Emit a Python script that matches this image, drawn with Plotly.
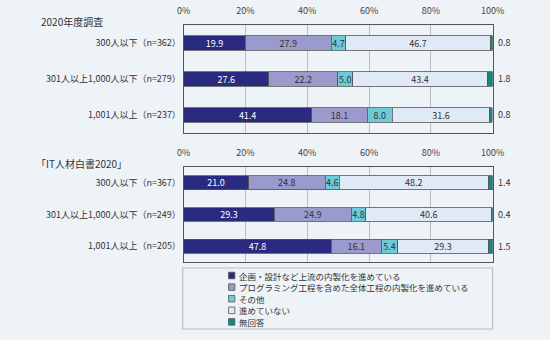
import plotly.graph_objects as go

# ---- data ----
series_names = [
    "企画・設計など上流の内製化を進めている",
    "プログラミング工程を含めた全体工程の内製化を進めている",
    "その他",
    "進めていない",
    "無回答",
]
series_colors = ["#2a2a80", "#9a9acd", "#6ccad9", "#dfeaf6", "#0f8a80"]
text_colors = ["#ffffff", "#333333", "#333333", "#333333", "#333333"]

group_titles = ["2020年度調査", "「IT人材白書2020」"]

cats_2020 = ["300人以下（n=362）", "301人以上1,000人以下（n=279）", "1,001人以上（n=237）"]
upstream_2020 = [19.9, 27.6, 41.4]
fullproc_2020 = [27.9, 22.2, 18.1]
other_2020 = [4.7, 5.0, 8.0]
none_2020 = [46.7, 43.4, 31.6]
noans_2020 = [0.8, 1.8, 0.8]

cats_wp = ["300人以下（n=367）", "301人以上1,000人以下（n=249）", "1,001人以上（n=205）"]
upstream_wp = [21.0, 29.3, 47.8]
fullproc_wp = [24.8, 24.9, 16.1]
other_wp = [4.6, 4.8, 5.4]
none_wp = [48.2, 40.6, 29.3]
noans_wp = [1.4, 0.4, 1.5]

x_ticks = [0, 20, 40, 60, 80, 100]
x_ticktext = ["0%", "20%", "40%", "60%", "80%", "100%"]

groups = [
    (cats_2020, [upstream_2020, fullproc_2020, other_2020, none_2020, noans_2020]),
    (cats_wp, [upstream_wp, fullproc_wp, other_wp, none_wp, noans_wp]),
]

# ---- layout constants ----
W, H = 550, 340
BG = "#eef3f8"
FONT = "Noto Sans CJK JP, Noto Sans, sans-serif"
x_dom = [183 / W, 503 / W]
y_doms = [[1 - 133 / H, 1 - 25 / H], [1 - 262 / H, 1 - 167 / H]]
bar_widths = [0.39, 0.44]

fig = go.Figure()
annotations = []

for g, (cats, vals) in enumerate(groups):
    xa = "x" if g == 0 else "x2"
    ya = "y" if g == 0 else "y2"
    for s, v in enumerate(vals):
        is_last = s == len(vals) - 1
        fig.add_trace(go.Bar(
            orientation="h", x=v, y=cats, xaxis=xa, yaxis=ya,
            name=series_names[s], width=bar_widths[g],
            marker=dict(color=series_colors[s], line=dict(color="#555555", width=0.8)),
            text=None if is_last else [f"{x:.1f}" for x in v],
            textposition="none" if is_last else "inside",
            insidetextanchor="middle", textangle=0,
            textfont=dict(color=text_colors[s], size=9, family=FONT),
            showlegend=False, hoverinfo="x+y+name",
        ))
    # values of the last series shown to the right of the plot
    for c, v in zip(cats, vals[-1]):
        annotations.append(dict(
            x=100, y=c, xref=xa, yref=ya, text=f"{v:.1f}", showarrow=False,
            xanchor="left", xshift=3, font=dict(size=9, color="#333333", family=FONT),
        ))

# group titles
annotations.append(dict(x=33 / W, y=1 - 22 / H, xref="paper", yref="paper", text=group_titles[0],
                        showarrow=False, xanchor="left", yanchor="middle",
                        font=dict(size=10, color="#333333", family=FONT)))
annotations.append(dict(x=28 / W, y=1 - 163 / H, xref="paper", yref="paper", text=group_titles[1],
                        showarrow=False, xanchor="left", yanchor="middle",
                        font=dict(size=10, color="#333333", family=FONT)))

# manual legend
shapes = [dict(type="rect", xref="paper", yref="paper",
               x0=182 / W, x1=503 / W, y0=1 - 329 / H, y1=1 - 268 / H,
               line=dict(color="#bbbbbb", width=1.2), fillcolor=BG, layer="below")]
row0, step = 275.5, 11.6
for i, (nm, col) in enumerate(zip(series_names, series_colors)):
    yc = row0 + i * step
    shapes.append(dict(type="rect", xref="paper", yref="paper",
                       x0=229.5 / W, x1=236 / W, y0=1 - (yc + 3.3) / H, y1=1 - (yc - 3.3) / H,
                       line=dict(color="#555555", width=0.8), fillcolor=col))
    annotations.append(dict(x=238 / W, y=1 - yc / H, xref="paper", yref="paper", text=nm,
                            showarrow=False, xanchor="left", yanchor="middle",
                            font=dict(size=8.5, color="#333333", family=FONT)))

xaxis_common = dict(
    range=[0, 100], tickvals=x_ticks, ticktext=x_ticktext, side="top",
    showgrid=True, gridcolor="#bdbdbd", gridwidth=1,
    showline=True, linecolor="#555555", linewidth=1, mirror=True,
    ticks="outside", ticklen=6, tickcolor=BG, zeroline=False,
    tickfont=dict(size=9, color="#444444", family=FONT), fixedrange=True,
)
yaxis_common = dict(
    range=[2.5, -0.5], type="category", showline=True, linecolor="#555555", linewidth=1,
    mirror=True, ticks="", showgrid=False,
    tickfont=dict(size=9, color="#333333", family=FONT), fixedrange=True,
)

fig.update_layout(
    width=W, height=H, margin=dict(l=0, r=0, t=0, b=0),
    paper_bgcolor=BG, plot_bgcolor=BG, barmode="stack",
    showlegend=False,
    xaxis=dict(domain=x_dom, anchor="y", **xaxis_common),
    xaxis2=dict(domain=x_dom, anchor="y2", **xaxis_common),
    yaxis=dict(domain=y_doms[0], anchor="x", **yaxis_common),
    yaxis2=dict(domain=y_doms[1], anchor="x2", **yaxis_common),
    uniformtext=dict(minsize=9, mode="show"),
    annotations=annotations, shapes=shapes,
    font=dict(family=FONT),
)

fig.write_html("out.html")
